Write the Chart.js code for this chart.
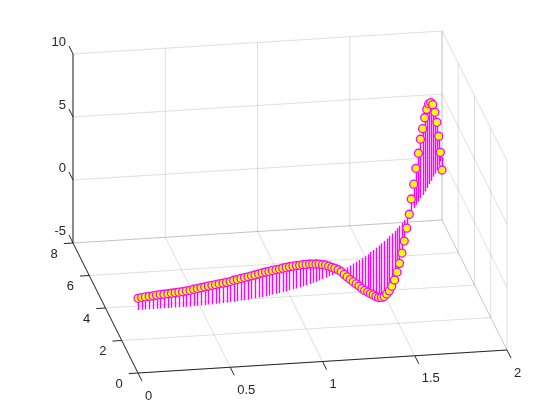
<!DOCTYPE html>
<html>
<head>
<meta charset="utf-8">
<title>stem3</title>
<style>
html, body { margin: 0; padding: 0; background: #fff; }
canvas { display: block; }
</style>
<script src="https://cdn.jsdelivr.net/npm/chart.js@4/dist/chart.umd.min.js"></script>
</head>
<body>
<canvas id="grafico" width="560" height="420"></canvas>
<script>
const xValues = [
  0, 0.02, 0.04, 0.061, 0.081, 0.101, 0.121, 0.141, 0.162, 0.182,
  0.202, 0.222, 0.242, 0.263, 0.283, 0.303, 0.323, 0.343, 0.364, 0.384,
  0.404, 0.424, 0.444, 0.465, 0.485, 0.505, 0.525, 0.545, 0.566, 0.586,
  0.606, 0.626, 0.646, 0.667, 0.687, 0.707, 0.727, 0.747, 0.768, 0.788,
  0.808, 0.828, 0.848, 0.869, 0.889, 0.909, 0.929, 0.949, 0.97, 0.99,
  1.01, 1.03, 1.051, 1.071, 1.091, 1.111, 1.131, 1.152, 1.172, 1.192,
  1.212, 1.232, 1.253, 1.273, 1.293, 1.313, 1.333, 1.354, 1.374, 1.394,
  1.414, 1.434, 1.455, 1.475, 1.495, 1.515, 1.535, 1.556, 1.576, 1.596,
  1.616, 1.636, 1.657, 1.677, 1.697, 1.717, 1.737, 1.758, 1.778, 1.798,
  1.818, 1.838, 1.859, 1.879, 1.899, 1.919, 1.939, 1.96, 1.98, 2
];
const yValues = [
  0, 0, 0, 0, 0, 0.01, 0.01, 0.01, 0.01, 0.01,
  0.01, 0.01, 0.01, 0.02, 0.02, 0.03, 0.03, 0.04, 0.05, 0.06,
  0.07, 0.08, 0.09, 0.10, 0.11, 0.13, 0.14, 0.16, 0.18, 0.20,
  0.22, 0.25, 0.27, 0.30, 0.32, 0.35, 0.38, 0.42, 0.45, 0.49,
  0.53, 0.57, 0.61, 0.66, 0.70, 0.75, 0.80, 0.86, 0.91, 0.97,
  1.03, 1.09, 1.16, 1.23, 1.30, 1.37, 1.45, 1.53, 1.61, 1.69,
  1.78, 1.87, 1.97, 2.06, 2.16, 2.26, 2.37, 2.48, 2.59, 2.71,
  2.83, 2.95, 3.08, 3.21, 3.34, 3.48, 3.62, 3.76, 3.91, 4.06,
  4.22, 4.38, 4.55, 4.69, 4.90, 5.06, 5.24, 5.41, 5.62, 5.80,
  6.00, 6.20, 6.44, 6.63, 6.85, 7.03, 7.24, 7.49, 7.75, 8.00
];
const zValues = [
  0.93, 0.97, 1.00, 1.03, 1.05, 1.07, 1.10, 1.11, 1.13, 1.15,
  1.17, 1.20, 1.22, 1.25, 1.28, 1.33, 1.37, 1.40, 1.43, 1.47,
  1.50, 1.52, 1.56, 1.58, 1.61, 1.63, 1.70, 1.71, 1.76, 1.78,
  1.80, 1.82, 1.84, 1.86, 1.90, 1.92, 1.91, 1.92, 1.93, 1.90,
  1.90, 1.89, 1.87, 1.83, 1.81, 1.75, 1.72, 1.64, 1.59, 1.49,
  1.40, 1.30, 1.14, 0.99, 0.81, 0.60, 0.40, 0.17, -0.11, -0.44,
  -0.78, -1.12, -1.44, -1.75, -2.06, -2.40, -2.72, -3.01, -3.29, -3.57,
  -3.87, -4.12, -4.30, -4.42, -4.40, -4.35, -4.18, -3.89, -3.48, -2.99,
  -2.40, -1.67, -0.89, 0.02, 0.94, 1.89, 2.90, 3.86, 4.68, 5.27,
  5.86, 6.25, 6.35, 6.19, 5.73, 4.87, 3.79, 2.34, 0.71, -1.03
];
const xTicks = [0, 0.5, 1, 1.5, 2];
const yTicks = [0, 2, 4, 6, 8];
const zTicks = [-5, 0, 5, 10];

const xMin = 0, xMax = 2, yMin = 0, yMax = 8, zMin = -5, zMax = 10;

// MATLAB view is orthographic, so one linear map from data to figure units is enough
function projeta(x, y, z) {
  return {
    x: 138 + 184.5 * x - 8.125 * y,
    y: 373 - 11.5 * x - 16.25 * y - 12.6 * (z - zMin)
  };
}

function segmentos(lista, nitido) {
  const pontos = [];
  lista.forEach(s => {
    const a = projeta(s[0], s[1], s[2]);
    const b = projeta(s[3], s[4], s[5]);
    if (nitido) {
      // stems sit on whole pixels in the reference
      a.x = b.x = Math.round(a.x) + 0.5;
    }
    pontos.push(a, b, { x: NaN, y: NaN });
  });
  return pontos;
}

const gradeSeg = [];
xTicks.forEach(x => {
  gradeSeg.push([x, yMin, zMin, x, yMax, zMin]);
  gradeSeg.push([x, yMax, zMin, x, yMax, zMax]);
});
yTicks.forEach(y => {
  gradeSeg.push([xMin, y, zMin, xMax, y, zMin]);
  gradeSeg.push([xMax, y, zMin, xMax, y, zMax]);
});
zTicks.forEach(z => {
  gradeSeg.push([xMin, yMax, z, xMax, yMax, z]);
  gradeSeg.push([xMax, yMax, z, xMax, yMin, z]);
});

const eixoSeg = [
  [xMin, yMin, zMin, xMax, yMin, zMin],
  [xMin, yMin, zMin, xMin, yMax, zMin],
  [xMin, yMax, zMin, xMin, yMax, zMax]
];
xTicks.forEach(x => eixoSeg.push([x, yMin, zMin, x, yMin - 0.5, zMin]));
yTicks.forEach(y => eixoSeg.push([xMin, y, zMin, xMin - 0.05, y, zMin]));
zTicks.forEach(z => eixoSeg.push([xMin, yMax, z, xMin, yMax + 0.5, z]));

const hasteSeg = xValues.map((x, i) => [x, yValues[i], 0, x, yValues[i], zValues[i]]);
const marcadores = xValues.map((x, i) => projeta(x, yValues[i], zValues[i]));

const rotulos = {
  id: 'rotulos',
  afterDatasetsDraw(chart) {
    const ctx = chart.ctx;
    const sx = chart.scales.x, sy = chart.scales.y;
    ctx.save();
    ctx.font = '13px "Liberation Sans", Arial, sans-serif';
    ctx.fillStyle = '#262626';
    ctx.textBaseline = 'middle';
    const escreve = (txt, p, dx, dy, align) => {
      ctx.textAlign = align;
      ctx.fillText(txt, sx.getPixelForValue(p.x + dx), sy.getPixelForValue(p.y + dy));
    };
    // x labels start at a fixed offset from the tick, they are not centred on it
    xTicks.forEach(t => escreve(String(t), projeta(t, yMin, zMin), 7, 23, 'left'));
    yTicks.forEach(t => escreve(String(t), projeta(xMin, t, zMin), -19, 11, 'center'));
    zTicks.forEach(t => escreve(String(t), projeta(xMin, yMax, t), -7, -11.3, 'right'));
    ctx.restore();
  }
};

function linha(pontos, cor, largura, ordem) {
  return {
    data: pontos,
    showLine: true,
    borderColor: cor,
    borderWidth: largura,
    pointRadius: 0,
    spanGaps: false,
    order: ordem
  };
}

new Chart(document.getElementById('grafico').getContext('2d'), {
  type: 'scatter',
  data: {
    datasets: [
      {
        data: marcadores,
        showLine: false,
        pointRadius: 4,
        pointBackgroundColor: '#ffff00',
        pointBorderColor: '#ff00ff',
        pointBorderWidth: 1.3,
        clip: false,
        order: 0
      },
      linha(segmentos(hasteSeg, true), '#ff00ff', 1.4, 1),
      linha(segmentos(eixoSeg, false), '#262626', 1, 2),
      linha(segmentos(gradeSeg, false), 'rgba(38,38,38,0.15)', 1, 3)
    ]
  },
  options: {
    responsive: false,
    animation: false,
    layout: { padding: 0, autoPadding: false },
    plugins: { legend: { display: false }, tooltip: { enabled: false } },
    scales: {
      x: { type: 'linear', min: 0, max: 560, display: false },
      y: { type: 'linear', min: 0, max: 420, reverse: true, display: false }
    }
  },
  plugins: [rotulos]
});
</script>
</body>
</html>
